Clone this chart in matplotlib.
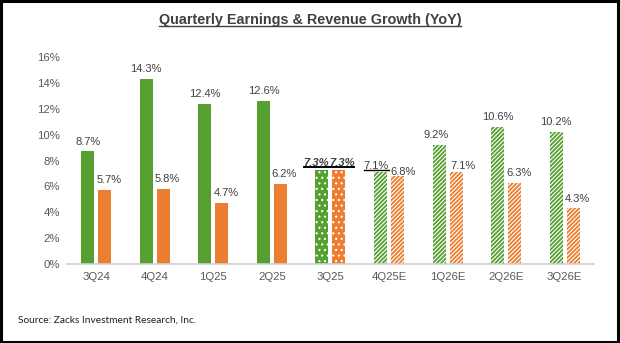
import numpy as np
import matplotlib
matplotlib.use('Agg')
import matplotlib.pyplot as plt
from matplotlib.lines import Line2D
from matplotlib.patches import Rectangle

# data
quarters = ['3Q24', '4Q24', '1Q25', '2Q25', '3Q25', '4Q25E', '1Q26E', '2Q26E', '3Q26E']
earnings = [8.7, 14.3, 12.4, 12.6, 7.3, 7.1, 9.2, 10.6, 10.2]
revenue = [5.7, 5.8, 4.7, 6.2, 7.3, 6.8, 7.1, 6.3, 4.3]
# 0 = reported, 1 = current quarter, 2 = estimate
status = [0, 0, 0, 0, 1, 2, 2, 2, 2]

green = '#55A030'
orange = '#ED7D31'
txt = '#404040'

plt.rcParams['font.family'] = ['Liberation Sans', 'DejaVu Sans']

fig = plt.figure(figsize=(6.2, 3.43), dpi=100)
ax = fig.add_axes([0.108, 0.2303, 0.850, 0.6035])

x = np.arange(len(quarters))
w = 0.222
off = 0.145

def draw_bar(xpos, val, col, st):
    if st == 0:
        ax.bar(xpos, val, w, color=col, linewidth=0)
    elif st == 1:
        with plt.rc_context({'hatch.linewidth': 0.8}):
            ax.bar(xpos, val, w, facecolor=col, edgecolor='white', hatch='...', linewidth=0)
    else:
        with plt.rc_context({'hatch.linewidth': 1.3}):
            ax.bar(xpos, val, w, facecolor='white', edgecolor=col, hatch='////////', linewidth=0)

for i in range(len(quarters)):
    draw_bar(x[i] - off, earnings[i], green, status[i])
    draw_bar(x[i] + off, revenue[i], orange, status[i])

ax.set_xlim(-0.5, 8.5)
ax.set_ylim(0, 16)
ax.set_yticks(np.arange(0, 17, 2))
ax.set_yticklabels(['%d%%' % v for v in range(0, 17, 2)])
ax.set_xticks(x)
ax.set_xticklabels(quarters)
ax.tick_params(axis='both', length=0, labelsize=8.2, colors='#595959')
ax.tick_params(axis='y', pad=5)
ax.tick_params(axis='x', pad=6)
for s in ['left', 'right', 'top']:
    ax.spines[s].set_visible(False)
ax.spines['bottom'].set_color('#D0D0D0')
ax.spines['bottom'].set_linewidth(1.2)

# label nudges in points (dx, dy)
g_nudge = {4: (-4, 1), 5: (-3, 1), 6: (-2, 3.5)}
o_nudge = {4: (2, 1), 5: (4, -1), 6: (5, 1)}
labels = []
for i in range(len(quarters)):
    dx, dy = g_nudge.get(i, (0, 3.5))
    sty = dict(fontsize=8, color=txt)
    if status[i] == 1:
        sty = dict(fontsize=8, color=txt, fontweight='bold', fontstyle='italic')
    t = ax.annotate('%.1f%%' % earnings[i], (x[i] - off, earnings[i]), xytext=(dx, dy),
                    textcoords='offset points', ha='center', va='bottom', **sty)
    labels.append((i, 'g', t))
    dx, dy = o_nudge.get(i, (3, 3.5))
    t = ax.annotate('%.1f%%' % revenue[i], (x[i] + off, revenue[i]), xytext=(dx, dy),
                    textcoords='offset points', ha='center', va='bottom', **sty)
    labels.append((i, 'o', t))

title = fig.text(0.5, 0.93, 'Quarterly Earnings & Revenue Growth (YoY)', ha='center', va='baseline',
                 fontsize=10.4, fontweight='bold', color=txt)
fig.text(0.029, 0.058, 'Source: Zacks Investment Research, Inc.', ha='left', va='baseline',
         fontsize=7.3, color='#202020', family=['Lato', 'DejaVu Sans'])

# underlines
fig.canvas.draw()
r = fig.canvas.get_renderer()
inv = fig.transFigure.inverted()
def underline(t, lw, col, pad=1.5):
    bb = t.get_window_extent(r)
    (x0, y0), (x1, y1) = inv.transform([(bb.x0, bb.y0 + pad), (bb.x1, bb.y0 + pad)])
    fig.add_artist(Line2D([x0, x1], [y0, y1], color=col, lw=lw, transform=fig.transFigure))

underline(title, 1.0, txt, pad=1.0)
for i, s, t in labels:
    if status[i] == 1:
        underline(t, 1.4, 'black', pad=1.0)
    elif i == 5 and s == 'g':
        underline(t, 1.0, 'black', pad=1.0)

fig.add_artist(Rectangle((0.002, 0.003), 0.994, 0.994, fill=False, edgecolor='black',
                         lw=2.2, transform=fig.transFigure))

fig.savefig('out.png', dpi=100)
